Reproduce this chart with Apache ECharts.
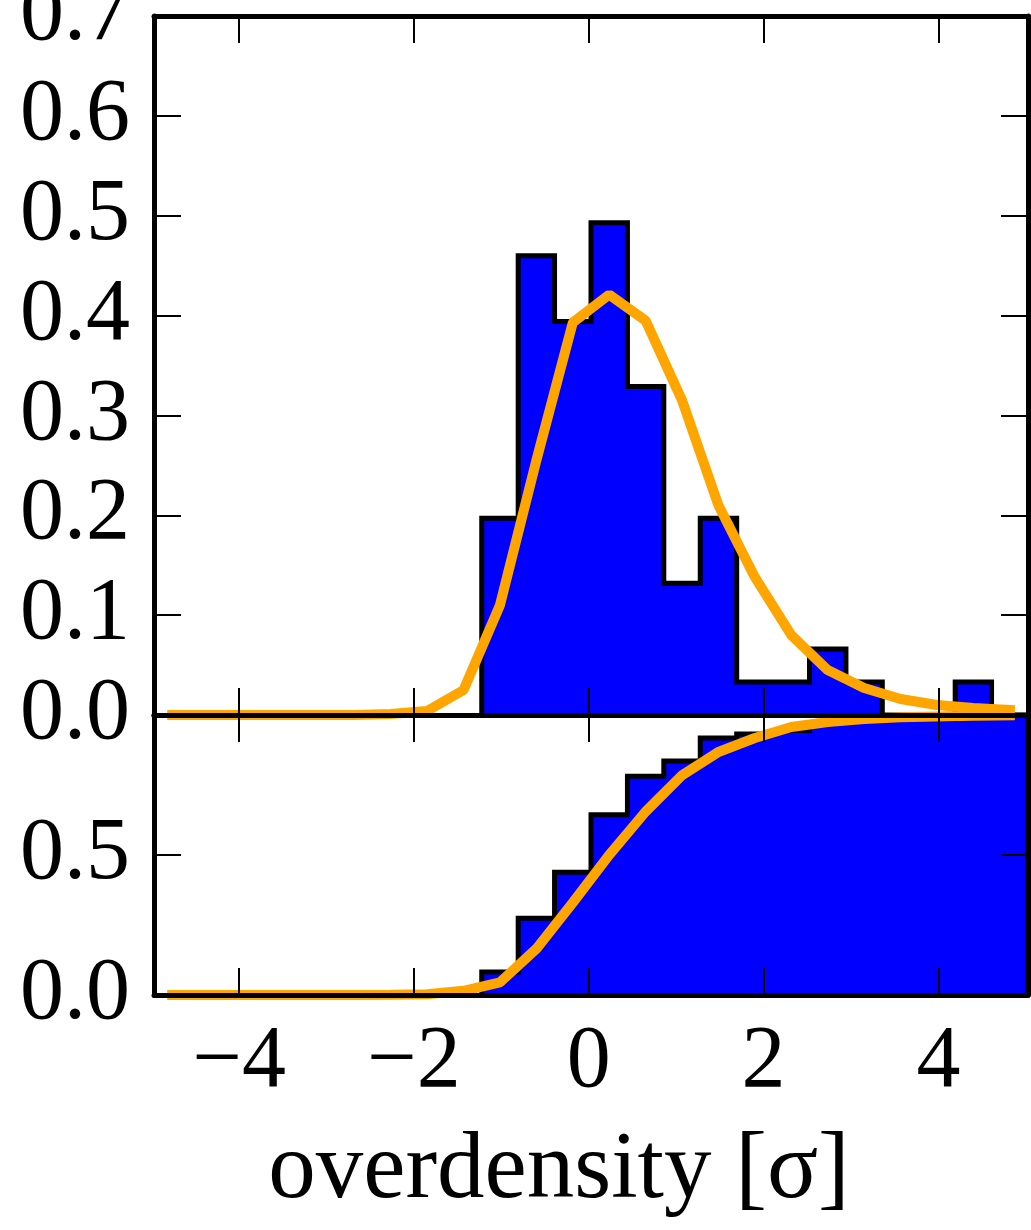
<!DOCTYPE html>
<html><head><meta charset="utf-8">
<script src="https://cdn.jsdelivr.net/npm/echarts@6/dist/echarts.min.js"></script>
<style>html,body{margin:0;padding:0;background:#fff}#c{width:1031px;height:1230px}</style>
</head><body><div id="c"></div>
<script>
// histogram bin edges (only the non-empty part; bins left of -1.225 are empty)
const binEdges = [-1.225, -0.808, -0.392, 0.025, 0.442, 0.858, 1.275, 1.692, 2.108, 2.525, 2.942, 3.358, 3.775, 4.192, 4.608, 5.025];
// normalised histogram (top panel)
const density = [0.197, 0.460, 0.394, 0.493, 0.329, 0.132, 0.197, 0.033, 0.033, 0.066, 0.033, 0, 0, 0.033, 0];
// cumulative histogram (bottom panel)
const cumulative = [0.082, 0.274, 0.438, 0.644, 0.781, 0.836, 0.918, 0.932, 0.945, 0.973, 0.986, 0.986, 0.986, 1.0, 1.0];
// model curve sampled at bin centres
const curveX = [-4.767, -4.35, -3.933, -3.517, -3.1, -2.683, -2.267, -1.85, -1.433, -1.017, -0.6, -0.183, 0.233, 0.65, 1.067, 1.483, 1.9, 2.317, 2.733, 3.15, 3.567, 3.983, 4.4, 4.817];
const curvePdf = [0, 0, 0, 0, 0, 0, 0.001, 0.004, 0.025, 0.11, 0.255, 0.393, 0.421, 0.395, 0.315, 0.21, 0.138, 0.080, 0.045, 0.027, 0.016, 0.010, 0.007, 0.005];
const curveCdf = [0, 0, 0, 0, 0, 0, 0.001, 0.003, 0.015, 0.045, 0.165, 0.33, 0.50, 0.655, 0.785, 0.868, 0.918, 0.957, 0.975, 0.986, 0.992, 0.995, 0.997, 0.999];
const xTicks = [-4, -2, 0, 2, 4];
const topYLabels = [0, 0.1, 0.2, 0.3, 0.4, 0.5, 0.6, 0.7];
const bottomYLabels = [0, 0.5];
const xMin = -4.975, xMax = 5.025;

function stepData(edges, vals) {
  const d = [[edges[0], 0]];
  for (let i = 0; i < vals.length; i++) d.push([edges[i], vals[i]]);
  d.push([edges[edges.length - 1], vals[vals.length - 1]]);
  d.push([edges[edges.length - 1], 0]);
  return d;
}
function curveData(xs, ys) { return xs.map((x, i) => [x, ys[i]]); }

const FONT = 'Liberation Serif';
const FS = 88;
const tickStyle = { show: true, inside: true, length: 27, lineStyle: { color: '#000', width: 2 } };
const lineStyle = { show: true, onZero: false, lineStyle: { color: '#000', width: 5 } };

function xAxis(grid, pos, labels) {
  return {
    type: 'value', gridIndex: grid, position: pos, min: xMin, max: xMax, z: 10,
    axisLine: lineStyle,
    axisTick: Object.assign({ customValues: xTicks }, tickStyle),
    axisLabel: labels ? {
      show: true, customValues: xTicks, margin: 24, color: '#000', fontFamily: FONT, fontSize: FS,
      formatter: v => (v < 0 ? '\u2212' + Math.abs(v) : String(v))
    } : { show: false },
    splitLine: { show: false }
  };
}
function yAxis(grid, pos, max, tickVals, labels) {
  return {
    type: 'value', gridIndex: grid, position: pos, min: 0, max: max, z: 10,
    axisLine: lineStyle,
    axisTick: Object.assign({ customValues: tickVals }, tickStyle),
    axisLabel: labels ? {
      show: true, customValues: tickVals, margin: 24, color: '#000', fontFamily: FONT, fontSize: FS,
      formatter: v => v.toFixed(1)
    } : { show: false },
    splitLine: { show: false }
  };
}

const chart = echarts.init(document.getElementById('c'), null, { renderer: 'canvas' });
chart.setOption({
  animation: false,
  backgroundColor: '#fff',
  grid: [
    { left: 154, top: 16, width: 874, height: 699, outerBoundsMode: 'none', containLabel: false },
    { left: 154, top: 715, width: 874, height: 280, outerBoundsMode: 'none', containLabel: false }
  ],
  xAxis: [xAxis(0, 'bottom', false), xAxis(0, 'top', false), xAxis(1, 'bottom', true), xAxis(1, 'top', false)],
  yAxis: [yAxis(0, 'left', 0.7, topYLabels, true), yAxis(0, 'right', 0.7, topYLabels, false),
          yAxis(1, 'left', 1.0, bottomYLabels, true), yAxis(1, 'right', 1.0, bottomYLabels, false)],
  series: [
    { type: 'line', xAxisIndex: 0, yAxisIndex: 0, step: 'end', data: stepData(binEdges, density), symbol: 'none', z: 2,
      lineStyle: { color: '#000', width: 5, join: 'miter' }, areaStyle: { color: '#0000ff', opacity: 1 } },
    { type: 'line', xAxisIndex: 0, yAxisIndex: 0, data: curveData(curveX, curvePdf), symbol: 'none', z: 3,
      lineStyle: { color: '#ffa500', width: 10, cap: 'square' } },
    { type: 'line', xAxisIndex: 2, yAxisIndex: 2, step: 'end', data: stepData(binEdges, cumulative), symbol: 'none', z: 2,
      lineStyle: { color: '#000', width: 5, join: 'miter' }, areaStyle: { color: '#0000ff', opacity: 1 } },
    { type: 'line', xAxisIndex: 2, yAxisIndex: 2, data: curveData(curveX, curveCdf), symbol: 'none', z: 3,
      lineStyle: { color: '#ffa500', width: 10, cap: 'square' } }
  ],
  graphic: [
    { type: 'text', x: 559, y: 1172, z: 20,
      style: { text: 'overdensity [\u03c3]', fontSize: 95, fontFamily: FONT, fill: '#000', align: 'center', verticalAlign: 'middle' } }
  ]
});
</script>
</body></html>
